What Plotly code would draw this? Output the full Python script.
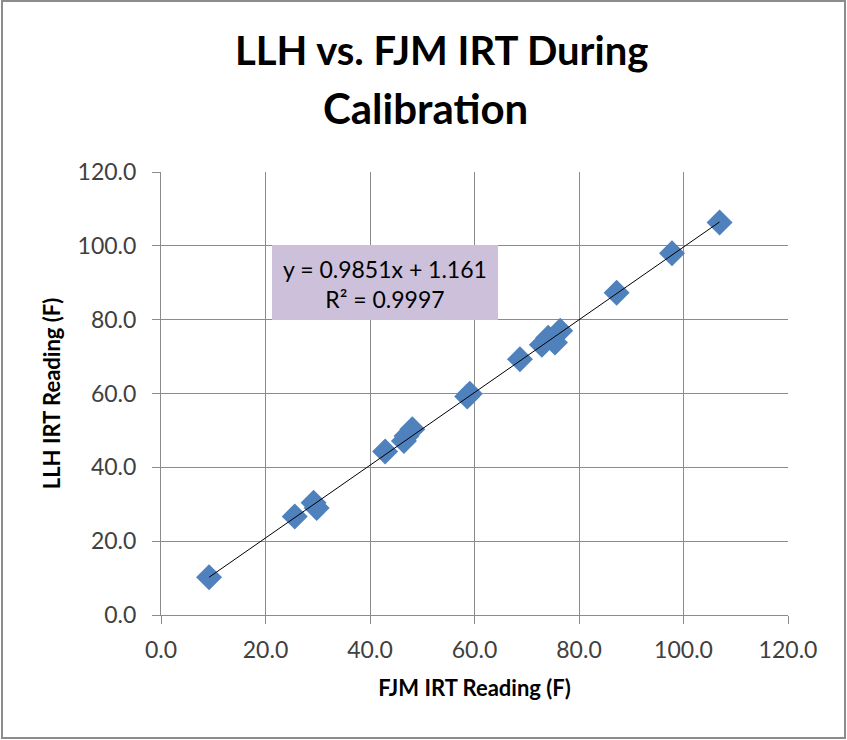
import plotly.graph_objects as go

# Data
fjm_x = [9.2, 25.6, 29.2, 29.8, 42.9, 46.5, 47.0, 48.1, 58.6, 59.1, 68.7,
         72.9, 74.1, 75.4, 76.4, 87.2, 97.8, 106.9]
llh_y = [10.2, 26.7, 30.4, 29.0, 44.3, 47.1, 48.5, 50.3, 59.2, 59.9, 69.3,
         73.2, 75.1, 73.8, 77.0, 87.3, 98.0, 106.3]
slope = 0.9851
intercept = 1.161
r2 = 0.9997
tick_vals = [0, 20, 40, 60, 80, 100, 120]
tick_text = ["0.0", "20.0", "40.0", "60.0", "80.0", "100.0", "120.0"]
title_lines = ["LLH vs. FJM IRT During", "Calibration"]

trend_x = [min(fjm_x), max(fjm_x)]
trend_y = [slope * v + intercept for v in trend_x]

FONT = "Lato"
GRID = "#8c8c8c"

fig = go.Figure()
fig.add_trace(go.Scatter(
    x=fjm_x, y=llh_y, mode="markers",
    marker=dict(symbol="diamond", size=20, color="#4F81BD", line=dict(width=0)),
    showlegend=False, hoverinfo="x+y"))
fig.add_trace(go.Scatter(
    x=trend_x, y=trend_y, mode="lines",
    line=dict(color="#000000", width=1), showlegend=False, hoverinfo="skip"))

W, H = 847, 740
L, R, T, B = 161, 59, 172, 125
pw, ph = W - L - R, H - T - B

def px(xp):
    return (xp - L) / pw

def py(yp):
    return (H - B - yp) / ph

axis_common = dict(
    range=[0, 120], tickvals=tick_vals, ticktext=tick_text,
    showgrid=True, gridcolor=GRID, gridwidth=1,
    showline=True, linecolor=GRID, linewidth=1,
    ticks="outside", ticklen=8, tickcolor=GRID, tickwidth=1,
    zeroline=False, tickfont=dict(family=FONT, size=23, color="#404040"),
    fixedrange=True,
)

fig.update_layout(
    width=W, height=H,
    margin=dict(l=L, r=R, t=T, b=B, autoexpand=False),
    paper_bgcolor="white", plot_bgcolor="white",
    xaxis=dict(**axis_common, ticklabelstandoff=6,
               title=dict(text="<b>FJM IRT Reading (F)</b>", standoff=19,
                          font=dict(family=FONT, size=22, color="#000000"))),
    yaxis=dict(**axis_common, ticklabelstandoff=11,
               title=dict(text="<b>LLH IRT Reading (F)</b>", standoff=10,
                          font=dict(family=FONT, size=22, color="#000000"))),
    shapes=[
        dict(type="rect", xref="paper", yref="paper",
             x0=px(272), x1=px(498), y0=py(320), y1=py(245),
             fillcolor="#CCC0DA", line=dict(width=0), layer="above"),
        dict(type="rect", xref="paper", yref="paper",
             x0=px(2), x1=px(845), y0=py(738), y1=py(1),
             line=dict(color="#8c8c8c", width=2), fillcolor="rgba(0,0,0,0)"),
    ],
    annotations=[
        dict(text=f"<b>{title_lines[0]}</b>", xref="paper", yref="paper",
             x=px(441), y=py(50), xanchor="center", yanchor="middle",
             showarrow=False, font=dict(family=FONT, size=40, color="#000000")),
        dict(text=f"<b>{title_lines[1]}</b>", xref="paper", yref="paper",
             x=px(425), y=py(108), xanchor="center", yanchor="middle",
             showarrow=False, font=dict(family=FONT, size=42, color="#000000")),
        dict(text=f"y = {slope}x + {intercept}<br>R² = {r2}",
             xref="paper", yref="paper", x=px(385), y=py(284),
             xanchor="center", yanchor="middle", showarrow=False,
             font=dict(family=FONT, size=23, color="#000000"), align="center"),
    ],
)

fig.write_html("out.html", config={"displayModeBar": False},
               post_script="document.body.style.margin='0px';")
